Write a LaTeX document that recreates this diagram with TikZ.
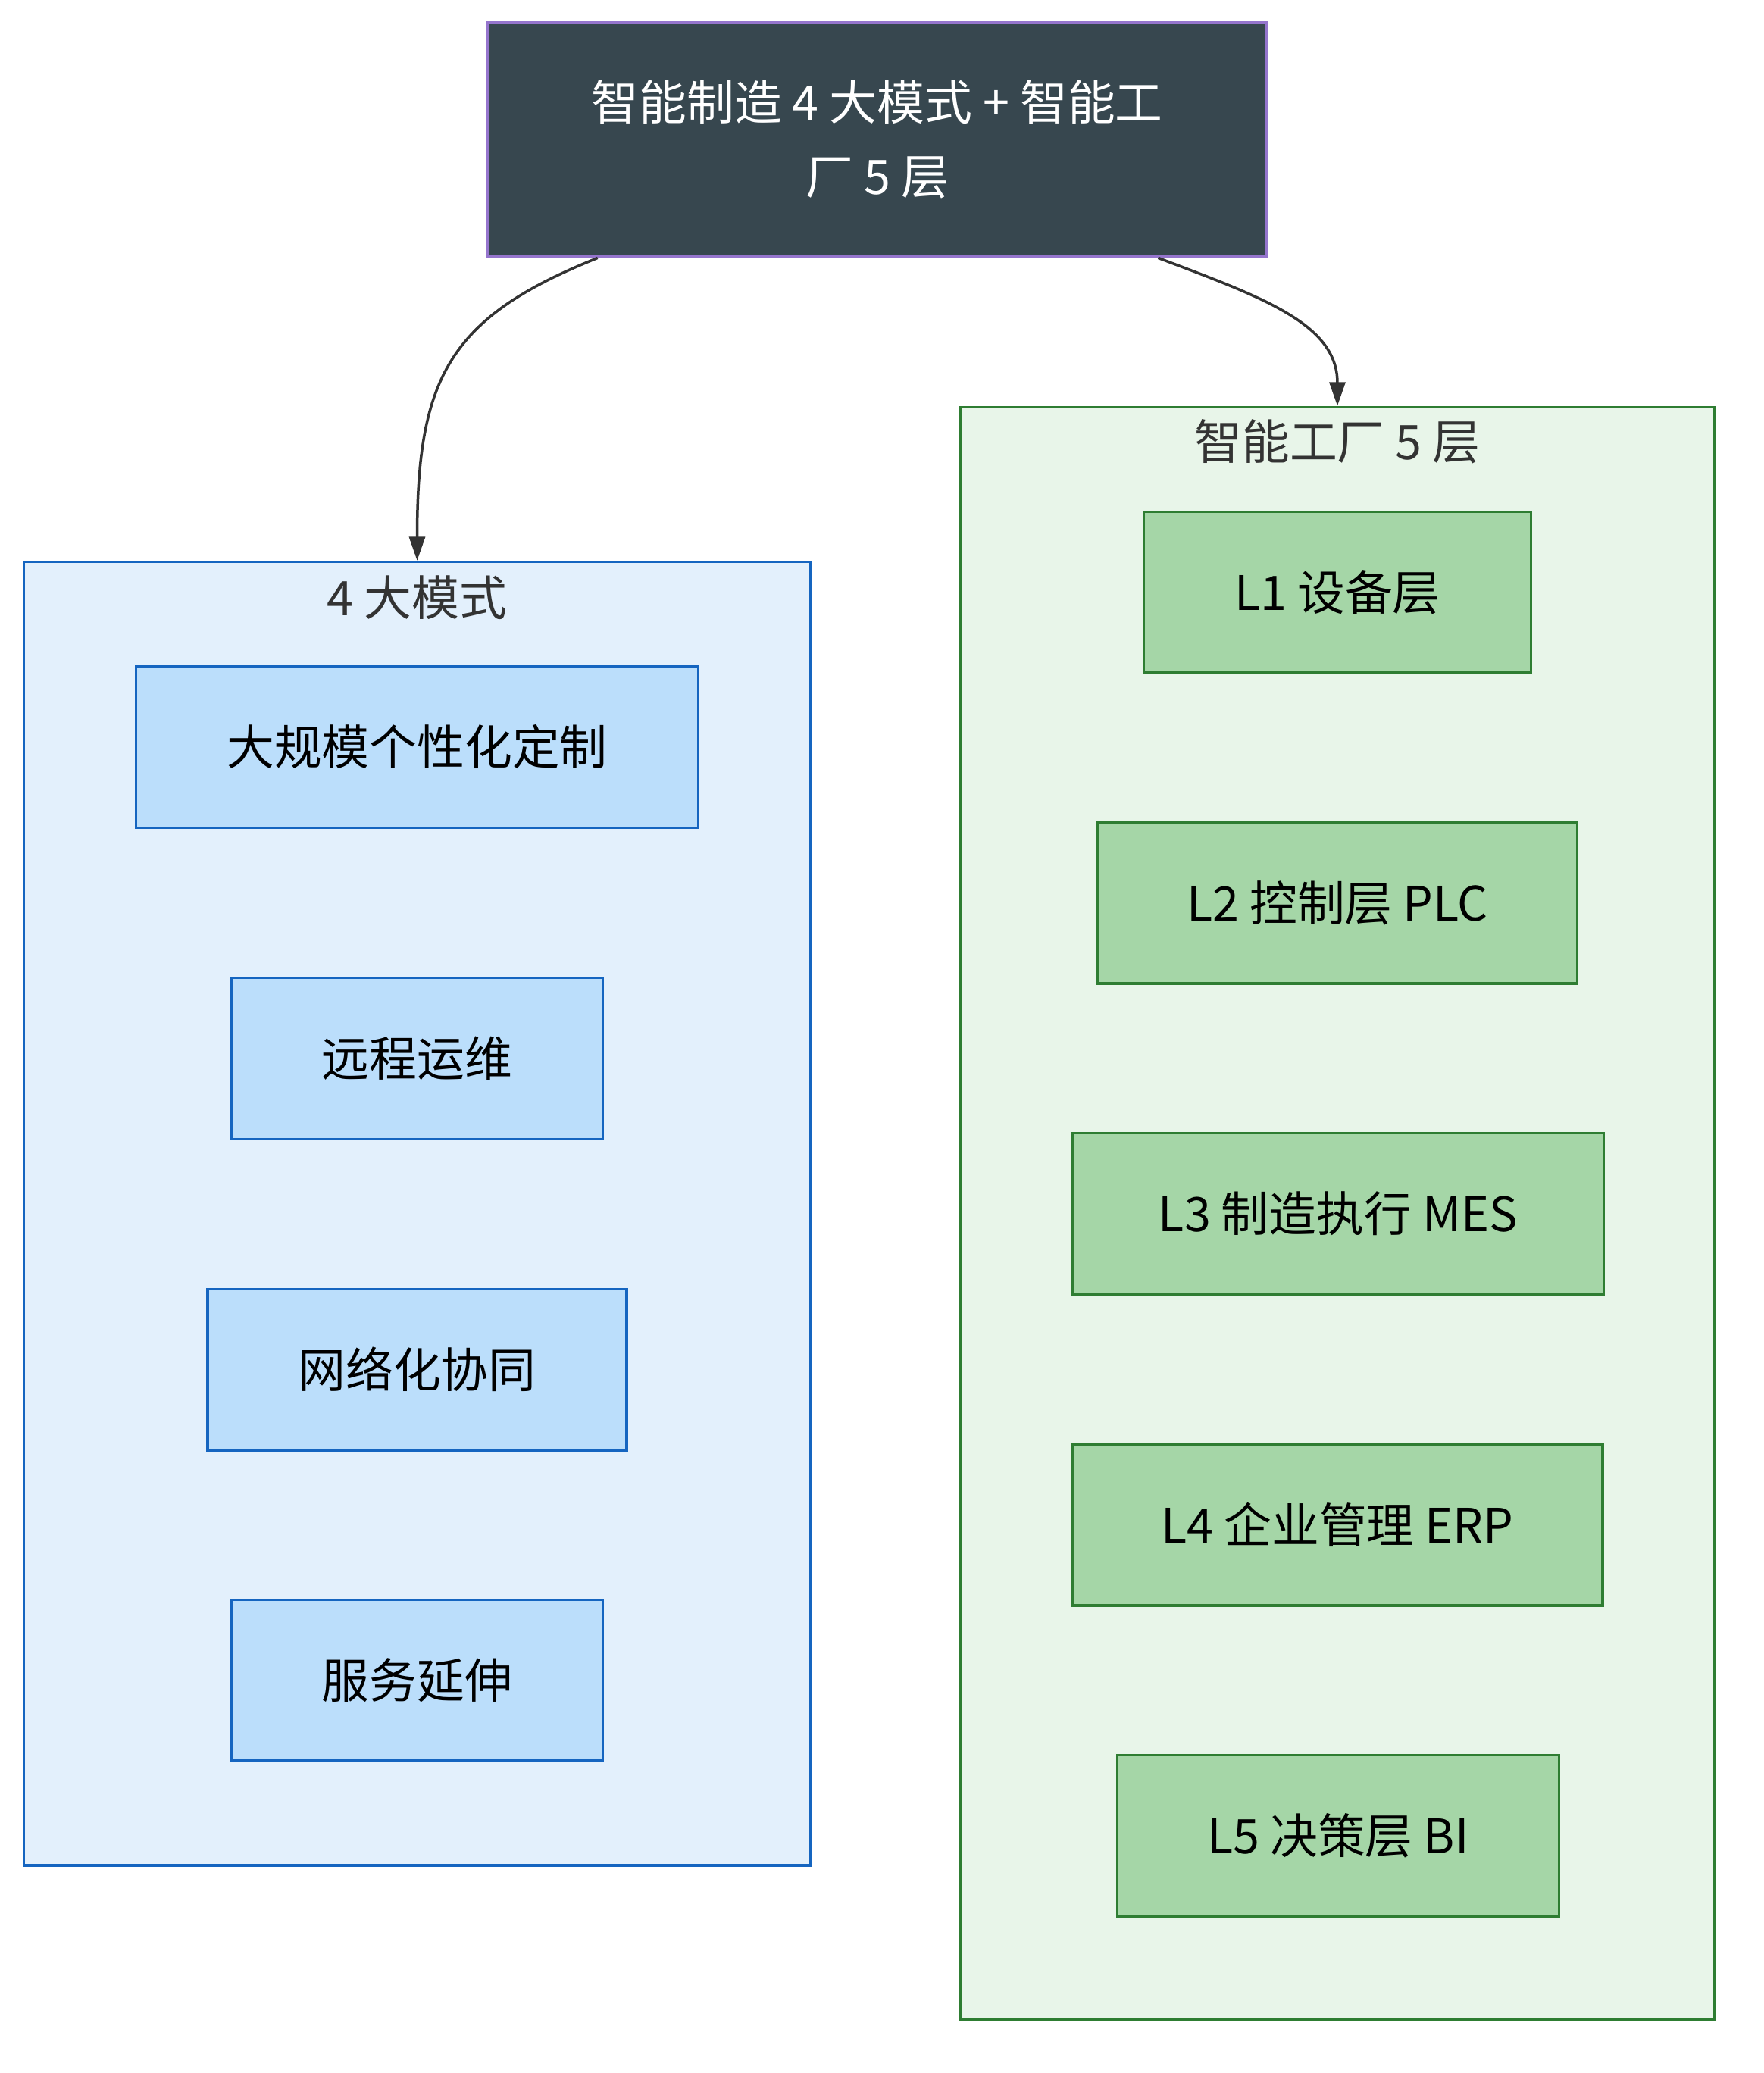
\documentclass[tikz,border=0pt]{standalone}
\usepackage{fontspec}
\setmainfont{Noto Sans CJK SC}
\usepackage{xcolor}
\usetikzlibrary{positioning,arrows.meta,calc}

\definecolor{topfill}{RGB}{55,71,79}
\definecolor{topline}{RGB}{149,117,205}
\definecolor{bluebg}{RGB}{227,240,252}
\definecolor{bluebox}{RGB}{187,222,251}
\definecolor{blueline}{RGB}{21,101,192}
\definecolor{greenbg}{RGB}{232,245,233}
\definecolor{greenbox}{RGB}{165,214,167}
\definecolor{greenline}{RGB}{46,125,50}
\definecolor{edgegray}{RGB}{51,51,51}

\begin{document}
\begin{tikzpicture}[x=1pt, y=-1pt, >={Triangle[length=18pt,width=12pt]},
    every node/.style={font=\fontsize{36}{56}\selectfont, align=center, inner sep=0pt},
    cluster/.style={draw, line width=2pt},
    title/.style={text=edgegray},
    mode/.style={draw=blueline, fill=bluebox, line width=2pt, minimum height=122pt},
    layer/.style={draw=greenline, fill=greenbox, line width=2pt, minimum height=122pt},
    edge/.style={->, draw=edgegray, line width=2pt}]
  \useasboundingbox (0,0) rectangle (1334,1568);

  \node[draw=topline, fill=topfill, text=white, line width=2.2pt,
        minimum width=589pt, minimum height=177pt] (top)
      at (663.5,105.5) {智能制造 4 大模式 + 智能工\\厂 5 层};

  % 4 big modes
  \node[cluster, draw=blueline, fill=bluebg,
        minimum width=595pt, minimum height=986pt] (lc) at (315.5,918) {};
  \node[title] (lct) at (315.5,452) {4 大模式};
  \node[mode, minimum width=425pt] (m1) at (315.5,565) {大规模个性化定制};
  \node[mode, minimum width=281pt] (m2) at (315.5,800.5) {远程运维};
  \node[mode, minimum width=317pt] (m3) at (315.5,1036) {网络化协同};
  \node[mode, minimum width=281pt] (m4) at (315.5,1271) {服务延伸};

  % 5 factory layers
  \node[cluster, draw=greenline, fill=greenbg,
        minimum width=571pt, minimum height=1220pt] (rc) at (1011.5,918) {};
  \node[title] (rct) at (1011.5,334) {智能工厂 5 层};
  \node[layer, minimum width=293pt] (l1) at (1011.5,448) {L1 设备层};
  \node[layer, minimum width=363pt] (l2) at (1011.5,683) {L2 控制层 PLC};
  \node[layer, minimum width=402pt] (l3) at (1012,918) {L3 制造执行 MES};
  \node[layer, minimum width=401pt] (l4) at (1011.5,1153.5) {L4 企业管理 ERP};
  \node[layer, minimum width=334pt] (l5) at (1012,1388.5) {L5 决策层 BI};

  \draw[edge] ([xshift=-211.5pt]top.south) .. controls (340,240) and (315.5,285) .. (lc.north);
  \draw[edge] ([xshift=212.5pt]top.south) .. controls (955,225) and (1011.5,245) .. (rc.north);
\end{tikzpicture}
\end{document}
